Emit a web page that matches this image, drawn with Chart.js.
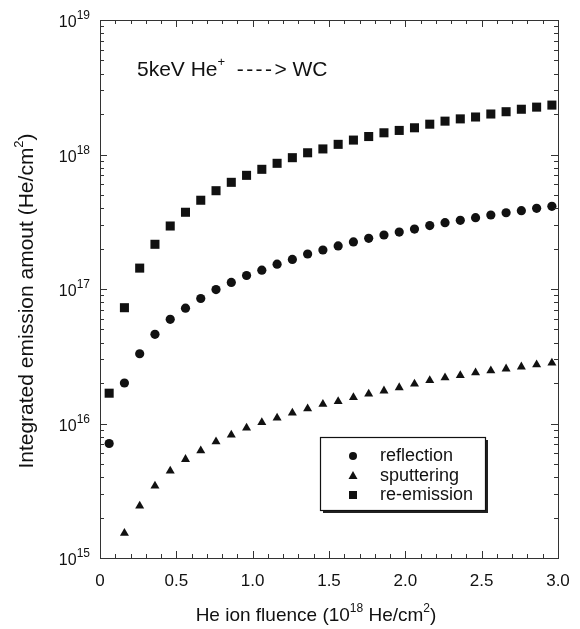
<!DOCTYPE html>
<html><head><meta charset="utf-8">
<script src="https://cdn.jsdelivr.net/npm/chart.js@4/dist/chart.umd.min.js"></script>
<style>html,body{margin:0;padding:0;background:#fff}#wrap{width:580px;height:629px;position:relative}</style>
</head><body><div id="wrap"><canvas id="c"></canvas></div>
<script>
const fluence = [0.06,0.16,0.26,0.36,0.46,0.56,0.66,0.76,0.86,0.96,1.06,1.16,1.26,1.36,1.46,1.56,1.66,1.76,1.86,1.96,2.06,2.16,2.26,2.36,2.46,2.56,2.66,2.76,2.86,2.96];
const reflection = [7.1e15,2.0e16,3.3e16,4.6e16,5.95e16,7.2e16,8.5e16,9.9e16,1.12e17,1.26e17,1.38e17,1.53e17,1.66e17,1.82e17,1.95e17,2.09e17,2.24e17,2.38e17,2.52e17,2.65e17,2.79e17,2.96e17,3.11e17,3.24e17,3.39e17,3.55e17,3.69e17,3.82e17,3.98e17,4.12e17];
const sputtering = [null,1.53e15,2.44e15,3.43e15,4.44e15,5.42e15,6.28e15,7.33e15,8.21e15,9.26e15,1.02e16,1.10e16,1.20e16,1.29e16,1.39e16,1.46e16,1.56e16,1.66e16,1.75e16,1.85e16,1.97e16,2.09e16,2.19e16,2.28e16,2.39e16,2.47e16,2.55e16,2.64e16,2.74e16,2.82e16];
const reemission = [1.68e16,7.26e16,1.43e17,2.15e17,2.94e17,3.72e17,4.57e17,5.38e17,6.21e17,7.0e17,7.76e17,8.6e17,9.47e17,1.03e18,1.10e18,1.19e18,1.28e18,1.36e18,1.45e18,1.51e18,1.58e18,1.68e18,1.77e18,1.84e18,1.90e18,2.00e18,2.08e18,2.17e18,2.25e18,2.33e18];
const seriesLabels = ['reflection','sputtering','re-emission'];
const xTickValues = [0,0.5,1.0,1.5,2.0,2.5,3.0];
const xTickLabels = ['0','0.5','1.0','1.5','2.0','2.5','3.0'];
const yTickExponents = [15,16,17,18,19];

const FONT = '"Liberation Sans", Arial, Helvetica, sans-serif';
const INK = '#111';
const pts = arr => fluence.map((x,i)=>({x, y: arr[i]})).filter(p => p.y !== null);

function supText(ctx, x, y, parts, align){
  // parts: {t, size, dy, pitch}
  let w = 0;
  parts.forEach(p=>{
    ctx.font = p.size+'px '+FONT;
    p.w = p.pitch ? p.pitch * p.t.length : ctx.measureText(p.t).width;
    w += p.w;
  });
  let cx = align==='right' ? x - w : align==='center' ? x - w/2 : x;
  ctx.textAlign = 'left';
  parts.forEach(p=>{
    ctx.font = p.size+'px '+FONT;
    if (p.pitch){
      for (let i=0;i<p.t.length;i++) ctx.fillText(p.t[i], cx + i*p.pitch, y + (p.dy||0));
    } else {
      ctx.fillText(p.t, cx, y + (p.dy||0));
    }
    cx += p.w;
  });
}

const decor = {
  id:'decor',
  afterDraw(chart){
    const {ctx, chartArea:a, scales:{x,y}} = chart;
    ctx.save();
    ctx.strokeStyle = '#333'; ctx.lineWidth = 1;
    ctx.strokeRect(Math.round(a.left)+0.5, Math.round(a.top)+0.5, Math.round(a.right-a.left), Math.round(a.bottom-a.top));
    const ln = (x1,y1,x2,y2)=>{ctx.beginPath();ctx.moveTo(x1,y1);ctx.lineTo(x2,y2);ctx.stroke();};
    // x ticks (major every 0.5, minor every 0.1)
    for (let i=0;i<=30;i++){
      const px = Math.round(x.getPixelForValue(i/10))+0.5;
      const len = (i%5===0) ? 7 : 4;
      ln(px, a.bottom, px, a.bottom-len);
      ln(px, a.top, px, a.top+len);
    }
    // y ticks (log decades with minor 2..9)
    for (let e=15;e<=18;e++){
      for (let k=1;k<=9;k++){
        const py = Math.round(y.getPixelForValue(k*Math.pow(10,e)))+0.5;
        const len = k===1 ? 7 : 4;
        ln(a.left, py, a.left+len, py);
        ln(a.right, py, a.right-len, py);
      }
    }
    ctx.fillStyle = INK;
    ctx.textBaseline = 'alphabetic';
    // x tick labels
    xTickValues.forEach((v,i)=>{
      ctx.font = '17px '+FONT; ctx.textAlign='center';
      ctx.fillText(xTickLabels[i], x.getPixelForValue(v), 586);
    });
    // y tick labels
    yTickExponents.forEach(e=>{
      const py = y.getPixelForValue(Math.pow(10,e));
      supText(ctx, 90, py+7, [{t:'10',size:16},{t:String(e),size:12,dy:-8}], 'right');
    });
    // x title
    supText(ctx, 316, 621, [{t:'He ion fluence (10',size:19},{t:'18',size:12,dy:-9},{t:' He/cm',size:19},{t:'2',size:12,dy:-9},{t:')',size:19}], 'center');
    // y title
    ctx.save();
    ctx.translate(33, 301); ctx.rotate(-Math.PI/2);
    supText(ctx, 0, 0, [{t:'Integrated emission amout (He/cm',size:21},{t:'2',size:13,dy:-10},{t:')',size:21}], 'center');
    ctx.restore();
    // annotation
    supText(ctx, 137, 76, [{t:'5keV He',size:21},{t:'+',size:13,dy:-10},{t:'  ',size:21},{t:'----',size:21,pitch:9.4},{t:'> WC',size:21}], 'left');
    // legend
    const L = {x:320, y:437, w:165, h:73};
    ctx.fillStyle = '#222';
    ctx.fillRect(L.x+3, L.y+3, L.w, L.h);
    ctx.fillStyle = '#fff';
    ctx.fillRect(L.x, L.y, L.w, L.h);
    ctx.strokeStyle = '#111'; ctx.lineWidth = 1.2;
    ctx.strokeRect(L.x+0.5, L.y+0.5, L.w, L.h);
    const rows = [456, 476, 495];
    ctx.fillStyle = INK;
    rows.forEach((ry,i)=>{
      const mx = 353;
      ctx.beginPath();
      if (i===0){ ctx.arc(mx, ry, 4, 0, Math.PI*2); }
      else if (i===1){ ctx.moveTo(mx, ry-5); ctx.lineTo(mx+4.5, ry+3); ctx.lineTo(mx-4.5, ry+3); ctx.closePath(); }
      else { ctx.rect(mx-4, ry-4, 8, 8); }
      ctx.fill();
      ctx.font = '18px '+FONT; ctx.textAlign='left'; ctx.textBaseline='middle';
      ctx.fillText(seriesLabels[i], 380, ry);
    });
    ctx.restore();
  }
};

new Chart(document.getElementById('c'), {
  type: 'scatter',
  data: {
    datasets: [
      {label: seriesLabels[0], data: pts(reflection), pointStyle:'circle', pointRadius:4.6, backgroundColor:INK, borderColor:INK, borderWidth:0},
      {label: seriesLabels[1], data: pts(sputtering), pointStyle:'triangle', pointRadius:5.2, backgroundColor:INK, borderColor:INK, borderWidth:0},
      {label: seriesLabels[2], data: pts(reemission), pointStyle:'rect', pointRadius:6.4, backgroundColor:INK, borderColor:INK, borderWidth:0}
    ]
  },
  options: {
    responsive: true, maintainAspectRatio: false, animation: false,
    layout: {padding: {left:100, top:20, right:22, bottom:71}},
    plugins: {legend:{display:false}, tooltip:{enabled:false}},
    scales: {
      x: {type:'linear', min:0, max:3, display:false},
      y: {type:'logarithmic', min:1e15, max:1e19, display:false}
    }
  },
  plugins: [decor]
});
</script>
</body></html>
